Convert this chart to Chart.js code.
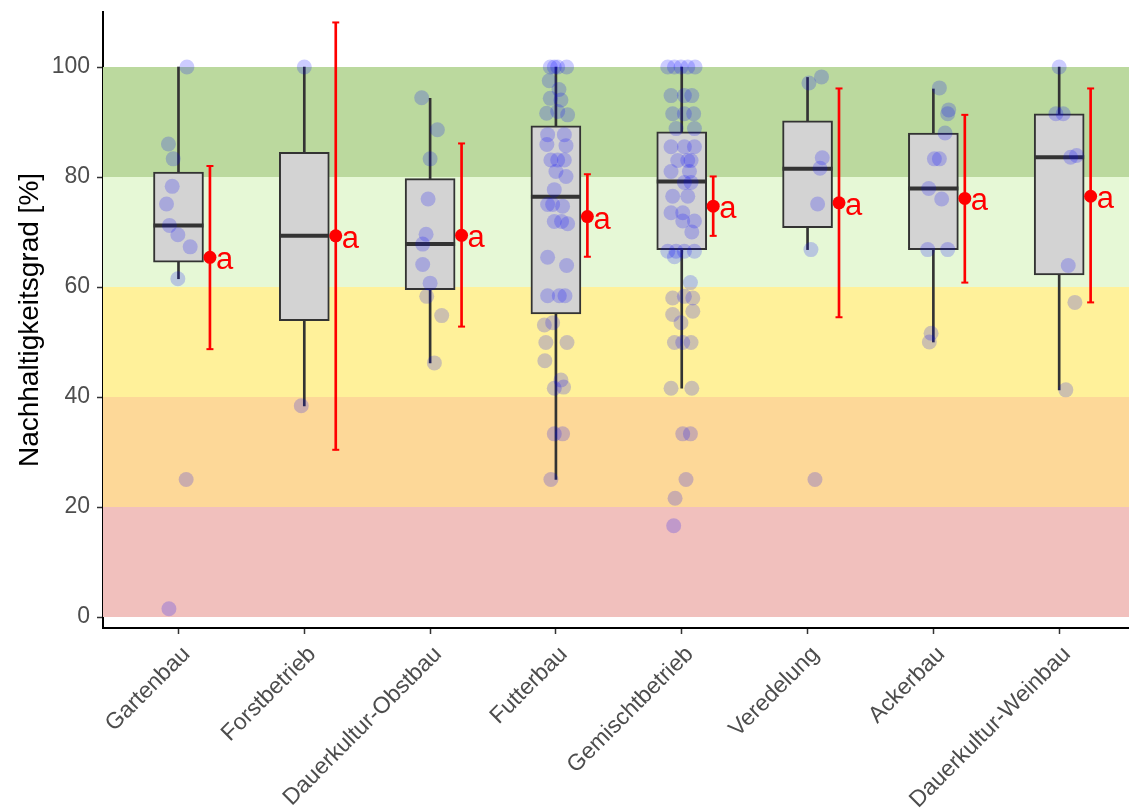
<!DOCTYPE html>
<html>
<head>
<meta charset="utf-8">
<script src="https://cdn.jsdelivr.net/npm/chart.js@4.4.1/dist/chart.umd.min.js"></script>
<style>
  html, body { margin: 0; padding: 0; background: #ffffff; }
  canvas { display: block; }
</style>
</head>
<body>
<canvas id="c" width="1129" height="811"></canvas>
<script>
// ---------- DATA ----------
const categories = ['Gartenbau', 'Forstbetrieb', 'Dauerkultur-Obstbau', 'Futterbau',
                    'Gemischtbetrieb', 'Veredelung', 'Ackerbau', 'Dauerkultur-Weinbau'];

const q1          = [64.5, 53.9, 59.5, 55.1, 66.8, 70.8, 66.8, 62.2];
const median      = [71.2, 69.3, 67.8, 76.4, 79.2, 81.5, 77.9, 83.6];
const q3          = [80.9, 84.5, 79.7, 89.3, 88.2, 90.2, 88.0, 91.5];
const whiskerLow  = [61.5, 38.4, 46.2, 25.0, 41.6, 66.8, 50.0, 41.3];
const whiskerHigh = [100, 100, 94.3, 100, 100, 98.1, 96.0, 100];

const meanVal = [65.4, 69.3, 69.4, 72.8, 74.7, 75.3, 76.1, 76.5];
const ciLow   = [48.7, 30.4, 52.8, 65.5, 69.3, 54.5, 60.8, 57.2];
const ciHigh  = [82.0, 108.1, 86.1, 80.5, 80.1, 96.1, 91.3, 96.1];
const groupLetter = ['a', 'a', 'a', 'a', 'a', 'a', 'a', 'a'];

// individual observations: values and horizontal jitter (in category units)
const gartenbauVals = [100, 86, 83.3, 78.3, 75.1, 71.2, 69.5, 67.3, 61.5, 25, 1.5];
const gartenbauJit  = [0.067, -0.08, -0.042, -0.05, -0.095, -0.072, -0.005, 0.093, -0.005, 0.061, -0.076];
const forstVals = [100, 38.4];
const forstJit  = [0, -0.024];
const obstVals = [94.4, 88.6, 83.3, 76, 69.6, 67.8, 64.1, 60.7, 58.3, 54.8, 46.2];
const obstJit  = [-0.067, 0.058, 0, -0.016, -0.032, -0.059, -0.059, 0, -0.027, 0.092, 0.034];
const futterVals = [100, 100, 100, 100, 97.5, 95.9, 94.3, 94, 91.6, 91.3, 91.9, 87.7, 87.7, 85.9, 85.7,
                    83.1, 83.1, 83.1, 81, 80.1, 77.7, 75, 75, 74.7, 71.9, 71.9, 71.5, 65.4, 63.9,
                    58.4, 58.4, 58.4, 53.1, 53.5, 49.9, 49.9, 46.6, 41.6, 41.8, 43.1, 33.3, 33.3, 25];
const futterJit  = [-0.045, -0.013, 0.014, 0.085, -0.053, 0.024, -0.045, 0.04, -0.074, 0.093, 0.014, -0.066, 0.067, -0.072, 0.08,
                    -0.04, 0.014, 0.067, 0, 0.08, -0.013, -0.066, -0.026, 0.053, -0.013, 0.045, 0.093, -0.066, 0.085,
                    -0.066, 0.027, 0.072, -0.092, -0.026, -0.08, 0.088, -0.088, -0.013, 0.061, 0.04, -0.013, 0.053, -0.04];
const gemischtVals = [100, 100, 100, 100, 100, 94.8, 94.8, 94.8, 91.5, 91.5, 91.5, 88.8, 88.8, 85.5, 85.5, 85.5,
                      83, 83, 83, 81, 81, 79, 79, 76.5, 76.5, 73.5, 73.5, 72, 72, 70, 66.5, 66.5, 66.5, 66.5, 65.5,
                      60.8, 58, 58.3, 58, 55.6, 55, 53.5, 49.9, 49.9, 49.9, 41.6, 41.6, 33.3, 33.3, 25, 21.6, 16.6];
const gemischtJit  = [-0.111, -0.058, -0.006, 0.106, 0.048, -0.085, 0.021, 0.08, -0.072, 0.021, 0.095, -0.045, 0.101, -0.085, 0.021, 0.101,
                      -0.032, 0.048, 0.074, -0.085, 0.061, 0.021, 0.074, -0.072, 0.048, -0.085, 0.008, 0.008, 0.101, 0.08, -0.111, -0.045, 0.021, 0.101, -0.058,
                      0.069, -0.072, 0.021, 0.088, 0.088, -0.072, -0.006, -0.058, 0.008, 0.074, -0.085, 0.08, 0.008, 0.069, 0.034, -0.053, -0.064];
const veredelungVals = [97.1, 98.2, 83.5, 81.6, 75.1, 66.8, 25];
const veredelungJit  = [0.011, 0.111, 0.117, 0.099, 0.08, 0.027, 0.059];
const ackerVals = [96.2, 92.2, 91.5, 88, 83.3, 83.3, 77.9, 76, 66.8, 66.8, 51.6, 50];
const ackerJit  = [0.048, 0.122, 0.114, 0.093, 0.008, 0.048, -0.037, 0.066, -0.045, 0.114, -0.018, -0.032];
const weinVals = [100, 91.5, 91.5, 83.6, 83.9, 63.9, 57.2, 41.3];
const weinJit  = [0, -0.026, 0.032, 0.091, 0.138, 0.072, 0.125, 0.053];

const pointVals = [gartenbauVals, forstVals, obstVals, futterVals, gemischtVals, veredelungVals, ackerVals, weinVals];
const pointJit  = [gartenbauJit, forstJit, obstJit, futterJit, gemischtJit, veredelungJit, ackerJit, weinJit];

// rating bands on the y axis
const bandLow   = [0, 20, 40, 60, 80];
const bandHigh  = [20, 40, 60, 80, 100];
const bandColor = ['#F1C0BD', '#FDD898', '#FFF19A', '#E6F8D6', '#BBD99E'];

const yTicks = [0, 20, 40, 60, 80, 100];
const meanShift = 0.25;

// ---------- BUILD DATASETS ----------
const FONT = "'Liberation Sans', Arial, Helvetica, sans-serif";
const pos = categories.map((c, i) => i + 1);

const jitterPoints = [];
pointVals.forEach((vals, i) => {
  vals.forEach((v, k) => jitterPoints.push({ x: pos[i] + pointJit[i][k], y: v }));
});

const datasets = [
  { // whiskers
    type: 'bar', order: 7, grouped: false,
    data: pos.map((x, i) => ({ x, y: [whiskerLow[i], whiskerHigh[i]] })),
    barThickness: 2, backgroundColor: '#333333', borderWidth: 0
  },
  { // boxes
    type: 'bar', order: 6, grouped: false,
    data: pos.map((x, i) => ({ x, y: [q1[i], q3[i]] })),
    barThickness: 50, backgroundColor: '#D3D3D3', borderColor: '#333333',
    borderWidth: 2, borderSkipped: false
  },
  { // medians
    type: 'scatter', order: 5,
    data: pos.map((x, i) => ({ x, y: median[i] })),
    pointStyle: 'line', pointRadius: 25, borderColor: '#333333', borderWidth: 4,
    backgroundColor: '#333333'
  },
  { // jittered observations
    type: 'scatter', order: 4,
    data: jitterPoints,
    pointRadius: 7.5, backgroundColor: 'rgba(0,0,255,0.2)', borderWidth: 0
  },
  { // CI bars
    type: 'bar', order: 3, grouped: false,
    data: pos.map((x, i) => ({ x: x + meanShift, y: [ciLow[i], ciHigh[i]] })),
    barThickness: 2, backgroundColor: '#FF0000', borderWidth: 0
  },
  { // CI caps
    type: 'scatter', order: 2,
    data: pos.flatMap((x, i) => [{ x: x + meanShift, y: ciLow[i] }, { x: x + meanShift, y: ciHigh[i] }]),
    pointStyle: 'line', pointRadius: 3.5, borderColor: '#FF0000', borderWidth: 2
  },
  { // means
    type: 'scatter', order: 1,
    data: pos.map((x, i) => ({ x: x + meanShift, y: meanVal[i] })),
    pointRadius: 6.5, backgroundColor: '#FF0000', borderWidth: 0
  }
];
const MEAN_INDEX = datasets.length - 1;

const bandPlugin = {
  id: 'bands',
  beforeDatasetsDraw(chart) {
    const { ctx, chartArea } = chart;
    const ys = chart.scales.y;
    ctx.save();
    bandLow.forEach((lo, i) => {
      const top = ys.getPixelForValue(bandHigh[i]);
      const bot = ys.getPixelForValue(lo);
      ctx.fillStyle = bandColor[i];
      ctx.fillRect(chartArea.left, top, chartArea.right - chartArea.left, bot - top);
    });
    ctx.restore();
  }
};

const letterPlugin = {
  id: 'letters',
  afterDatasetsDraw(chart) {
    const { ctx } = chart;
    const meta = chart.getDatasetMeta(MEAN_INDEX);
    ctx.save();
    ctx.fillStyle = '#FF0000';
    ctx.font = '31px ' + FONT;
    ctx.textAlign = 'left';
    ctx.textBaseline = 'alphabetic';
    meta.data.forEach((el, i) => {
      ctx.fillText(groupLetter[i], el.x + 6, el.y + 12);
    });
    ctx.restore();
  }
};

new Chart(document.getElementById('c'), {
  type: 'scatter',
  data: { datasets },
  options: {
    responsive: false,
    animation: false,
    events: [],
    layout: { autoPadding: false, padding: { top: 12, right: 0, bottom: 0, left: 0 } },
    plugins: { legend: { display: false }, tooltip: { enabled: false } },
    scales: {
      x: {
        type: 'linear', min: 0.4, max: 8.555, offset: false,
        grid: { offset: false, drawOnChartArea: false, drawTicks: true, tickLength: 6, tickColor: '#333333', tickWidth: 1.5 },
        border: { display: true, color: '#000000', width: 2 },
        ticks: {
          autoSkip: false, minRotation: 45, maxRotation: 45, padding: 7, labelOffset: 8,
          color: '#4D4D4D', font: { family: FONT, size: 23 },
          callback: (v) => categories[Math.round(v) - 1]
        },
        afterBuildTicks: (s) => { s.ticks = pos.map(v => ({ value: v })); },
        afterFit: (s) => { s.height = 183; s.paddingLeft = 0; s.paddingRight = 0; }
      },
      y: {
        type: 'linear', min: -2, max: 110,
        grid: { drawOnChartArea: false, drawTicks: true, tickLength: 6, tickColor: '#333333', tickWidth: 1.5 },
        border: { display: true, color: '#000000', width: 2 },
        ticks: { padding: 7, color: '#4D4D4D', font: { family: FONT, size: 23 } },
        afterBuildTicks: (s) => { s.ticks = yTicks.map(v => ({ value: v })); },
        afterFit: (s) => { s.width = 103; s.paddingTop = 0; s.paddingBottom = 0; },
        title: {
          display: true, text: 'Nachhaltigkeitsgrad [%]', color: '#000000',
          font: { family: FONT, size: 28 }, padding: { top: 13, bottom: 0 }
        }
      }
    }
  },
  plugins: [bandPlugin, letterPlugin]
});
</script>
</body>
</html>
